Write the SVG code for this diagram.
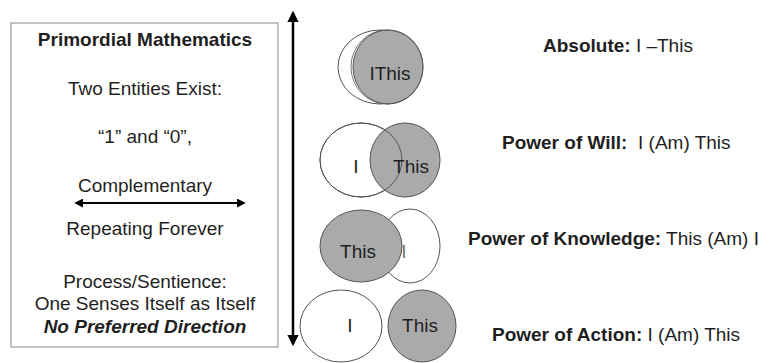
<svg xmlns="http://www.w3.org/2000/svg" width="775" height="363" viewBox="0 0 775 363">
<style>
text{font-family:"Liberation Sans",Arial,sans-serif;fill:#1f1f1f;font-size:19px}
.c{text-anchor:middle}
.b{font-weight:bold}
.w{fill:#fff;stroke:#555;stroke-width:1}
.g{fill:#aaaaaa;stroke:#555;stroke-width:1}
</style>
<defs>
<marker id="ah" viewBox="0 0 10 10" refX="8" refY="5" markerWidth="4.5" markerHeight="4.5" orient="auto-start-reverse">
<path d="M0,0 L10,5 L0,10 z" fill="#000"/>
</marker>
<filter id="glow" x="-10%" y="-200%" width="120%" height="500%"><feGaussianBlur stdDeviation="1.5"/></filter>
</defs>
<g id="box">
<rect x="11" y="23" width="267" height="324" fill="#fff" stroke="#888" stroke-width="1"/>
<text class="c b" x="145" y="46">Primordial Mathematics</text>
<text class="c" x="145" y="95">Two Entities Exist:</text>
<text class="c" x="145" y="143">“1” and “0”,</text>
<text class="c" x="145" y="192">Complementary</text>
<text class="c" x="145" y="235">Repeating Forever</text>
<text class="c" x="145" y="288">Process/Sentience:</text>
<text class="c" x="145" y="310">One Senses Itself as Itself</text>
<text class="c b" x="145" y="333" font-style="italic">No Preferred Direction</text>
</g>
<g id="connectors">
<line x1="75" y1="203" x2="245" y2="203" stroke="#6aaee8" stroke-width="5" filter="url(#glow)" opacity="0.8"/>
<line x1="76" y1="203" x2="244" y2="203" stroke="#000" stroke-width="2" marker-start="url(#ah)" marker-end="url(#ah)"/>
<line x1="293" y1="13" x2="293" y2="344" stroke="#000" stroke-width="2.5" marker-start="url(#ah)" marker-end="url(#ah)"/>
</g>
<g id="absolute">
<ellipse class="w" cx="380" cy="67" rx="42" ry="37"/>
<ellipse class="g" cx="388" cy="67" rx="35" ry="37"/>
<ellipse cx="387" cy="67" rx="36" ry="37" fill="none" stroke="#555" stroke-width="0.8"/>
<text class="c" x="390" y="80">IThis</text>
</g>
<g id="will">
<ellipse class="w" cx="361" cy="160" rx="41" ry="37"/>
<ellipse class="g" cx="405" cy="160" rx="35" ry="37"/>
<ellipse cx="361" cy="160" rx="41" ry="37" fill="none" stroke="#555" stroke-width="1"/>
<text class="c" x="356" y="173">I</text>
<text class="c" x="411" y="173">This</text>
</g>
<g id="knowledge">
<ellipse class="w" cx="410" cy="246" rx="30" ry="37"/>
<text class="c" x="404" y="258" style="fill:#777">I</text>
<ellipse class="g" cx="361" cy="246" rx="41" ry="36"/>
<text class="c" x="358" y="258">This</text>
</g>
<g id="action">
<ellipse class="w" cx="341" cy="326" rx="41" ry="36"/>
<ellipse class="g" cx="422" cy="326" rx="34" ry="36"/>
<text class="c" x="350" y="332">I</text>
<text class="c" x="420" y="332">This</text>
</g>
<g id="labels">
<text x="543" y="52"><tspan class="b">Absolute:</tspan> I –This</text>
<text x="502" y="149"><tspan class="b">Power of Will:</tspan>&#160; I (Am) This</text>
<text x="468" y="245"><tspan class="b">Power of Knowledge:</tspan> This (Am) I</text>
<text x="492" y="341"><tspan class="b">Power of Action:</tspan> I (Am) This</text>
</g>
</svg>
